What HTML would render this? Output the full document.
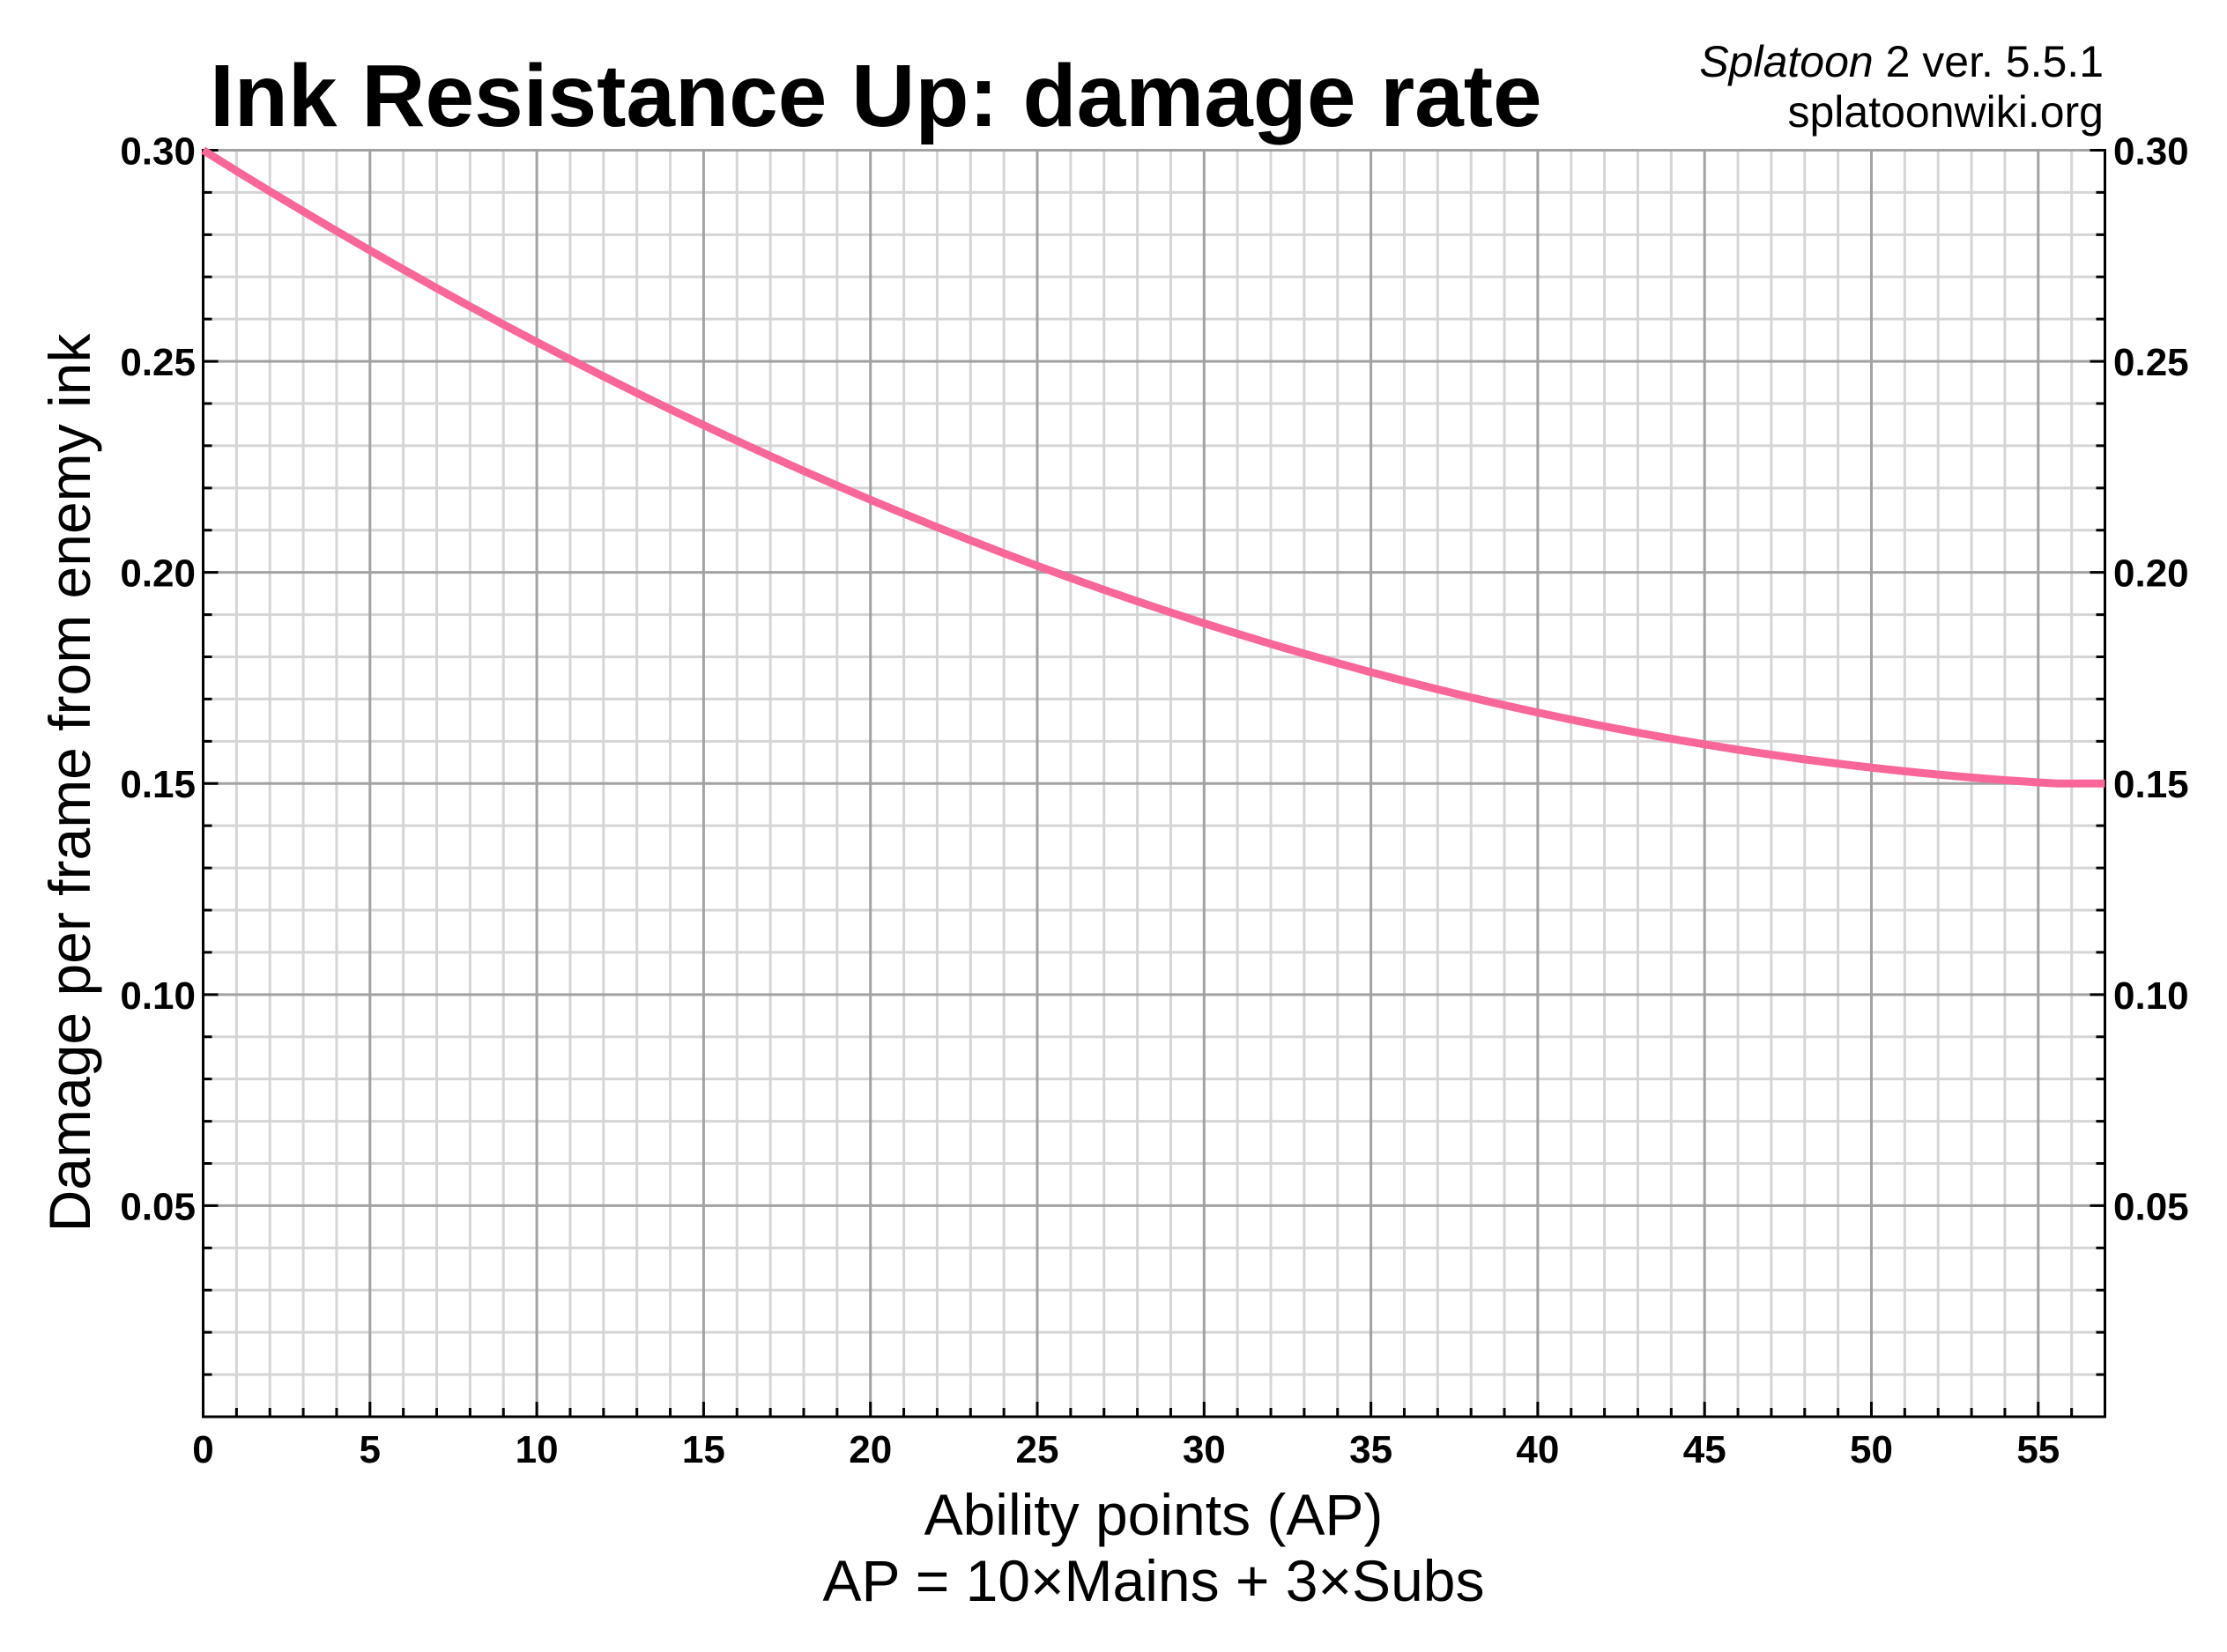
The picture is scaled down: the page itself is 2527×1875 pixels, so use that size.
<!DOCTYPE html>
<html>
<head>
<meta charset="utf-8">
<style>
html,body{margin:0;padding:0;background:#fff;}
svg{display:block;}
text{font-family:"Liberation Sans",Arial,sans-serif;fill:#000;}
</style>
</head>
<body>
<svg width="2527" height="1875" viewBox="0 0 2527 1875" xmlns="http://www.w3.org/2000/svg">
<rect width="2527" height="1875" fill="#fff"/>

<!-- minor vertical grid -->
<path fill="none" stroke="#d5d5d5" stroke-width="3" d="
M268.36 170.5V1608 M306.22 170.5V1608 M344.08 170.5V1608 M381.94 170.5V1608
M457.66 170.5V1608 M495.52 170.5V1608 M533.38 170.5V1608 M571.24 170.5V1608
M646.96 170.5V1608 M684.82 170.5V1608 M722.68 170.5V1608 M760.54 170.5V1608
M836.26 170.5V1608 M874.12 170.5V1608 M911.98 170.5V1608 M949.84 170.5V1608
M1025.56 170.5V1608 M1063.42 170.5V1608 M1101.28 170.5V1608 M1139.14 170.5V1608
M1214.86 170.5V1608 M1252.72 170.5V1608 M1290.58 170.5V1608 M1328.44 170.5V1608
M1404.16 170.5V1608 M1442.02 170.5V1608 M1479.88 170.5V1608 M1517.74 170.5V1608
M1593.46 170.5V1608 M1631.32 170.5V1608 M1669.18 170.5V1608 M1707.04 170.5V1608
M1782.76 170.5V1608 M1820.62 170.5V1608 M1858.48 170.5V1608 M1896.34 170.5V1608
M1972.06 170.5V1608 M2009.92 170.5V1608 M2047.78 170.5V1608 M2085.64 170.5V1608
M2161.36 170.5V1608 M2199.22 170.5V1608 M2237.08 170.5V1608 M2274.94 170.5V1608
M2350.66 170.5V1608"/>
<!-- minor horizontal grid -->
<path fill="none" stroke="#d5d5d5" stroke-width="3" d="
M230.5 218.42H2388.5 M230.5 266.33H2388.5 M230.5 314.25H2388.5 M230.5 362.17H2388.5
M230.5 458H2388.5 M230.5 505.92H2388.5 M230.5 553.83H2388.5 M230.5 601.75H2388.5
M230.5 697.58H2388.5 M230.5 745.5H2388.5 M230.5 793.42H2388.5 M230.5 841.33H2388.5
M230.5 937.17H2388.5 M230.5 985.08H2388.5 M230.5 1033H2388.5 M230.5 1080.92H2388.5
M230.5 1176.75H2388.5 M230.5 1224.67H2388.5 M230.5 1272.58H2388.5 M230.5 1320.5H2388.5
M230.5 1416.33H2388.5 M230.5 1464.25H2388.5 M230.5 1512.17H2388.5 M230.5 1560.08H2388.5"/>
<!-- major grid -->
<path fill="none" stroke="#a2a2a2" stroke-width="3" d="
M419.8 170.5V1608 M609.1 170.5V1608 M798.4 170.5V1608 M987.7 170.5V1608
M1177 170.5V1608 M1366.3 170.5V1608 M1555.6 170.5V1608 M1744.9 170.5V1608
M1934.2 170.5V1608 M2123.5 170.5V1608 M2312.8 170.5V1608
M230.5 170.5H2388.5 M230.5 410.08H2388.5 M230.5 649.67H2388.5 M230.5 889.25H2388.5
M230.5 1128.83H2388.5 M230.5 1368.42H2388.5"/>

<!-- spines -->
<path fill="none" stroke="#000" stroke-width="3" stroke-linecap="square" d="M230.5 170.5V1608H2388.5V170.5"/>

<!-- left ticks -->
<path fill="none" stroke="#000" stroke-width="3" d="
M230.5 170.5h17 M230.5 410.08h17 M230.5 649.67h17 M230.5 889.25h17 M230.5 1128.83h17 M230.5 1368.42h17
M230.5 218.42h10 M230.5 266.33h10 M230.5 314.25h10 M230.5 362.17h10
M230.5 458h10 M230.5 505.92h10 M230.5 553.83h10 M230.5 601.75h10
M230.5 697.58h10 M230.5 745.5h10 M230.5 793.42h10 M230.5 841.33h10
M230.5 937.17h10 M230.5 985.08h10 M230.5 1033h10 M230.5 1080.92h10
M230.5 1176.75h10 M230.5 1224.67h10 M230.5 1272.58h10 M230.5 1320.5h10
M230.5 1416.33h10 M230.5 1464.25h10 M230.5 1512.17h10 M230.5 1560.08h10"/>
<!-- right ticks -->
<path fill="none" stroke="#000" stroke-width="3" d="
M2388.5 170.5h-17 M2388.5 410.08h-17 M2388.5 649.67h-17 M2388.5 889.25h-17 M2388.5 1128.83h-17 M2388.5 1368.42h-17
M2388.5 218.42h-10 M2388.5 266.33h-10 M2388.5 314.25h-10 M2388.5 362.17h-10
M2388.5 458h-10 M2388.5 505.92h-10 M2388.5 553.83h-10 M2388.5 601.75h-10
M2388.5 697.58h-10 M2388.5 745.5h-10 M2388.5 793.42h-10 M2388.5 841.33h-10
M2388.5 937.17h-10 M2388.5 985.08h-10 M2388.5 1033h-10 M2388.5 1080.92h-10
M2388.5 1176.75h-10 M2388.5 1224.67h-10 M2388.5 1272.58h-10 M2388.5 1320.5h-10
M2388.5 1416.33h-10 M2388.5 1464.25h-10 M2388.5 1512.17h-10 M2388.5 1560.08h-10"/>
<!-- bottom ticks -->
<path fill="none" stroke="#000" stroke-width="3" d="
M419.8 1608v-17 M609.1 1608v-17 M798.4 1608v-17 M987.7 1608v-17 M1177 1608v-17 M1366.3 1608v-17
M1555.6 1608v-17 M1744.9 1608v-17 M1934.2 1608v-17 M2123.5 1608v-17 M2312.8 1608v-17
M268.36 1608v-10 M306.22 1608v-10 M344.08 1608v-10 M381.94 1608v-10
M457.66 1608v-10 M495.52 1608v-10 M533.38 1608v-10 M571.24 1608v-10
M646.96 1608v-10 M684.82 1608v-10 M722.68 1608v-10 M760.54 1608v-10
M836.26 1608v-10 M874.12 1608v-10 M911.98 1608v-10 M949.84 1608v-10
M1025.56 1608v-10 M1063.42 1608v-10 M1101.28 1608v-10 M1139.14 1608v-10
M1214.86 1608v-10 M1252.72 1608v-10 M1290.58 1608v-10 M1328.44 1608v-10
M1404.16 1608v-10 M1442.02 1608v-10 M1479.88 1608v-10 M1517.74 1608v-10
M1593.46 1608v-10 M1631.32 1608v-10 M1669.18 1608v-10 M1707.04 1608v-10
M1782.76 1608v-10 M1820.62 1608v-10 M1858.48 1608v-10 M1896.34 1608v-10
M1972.06 1608v-10 M2009.92 1608v-10 M2047.78 1608v-10 M2085.64 1608v-10
M2161.36 1608v-10 M2199.22 1608v-10 M2237.08 1608v-10 M2274.94 1608v-10
M2350.66 1608v-10"/>

<!-- curve -->
<polyline fill="none" stroke="#f96699" stroke-width="9" stroke-linejoin="round" stroke-linecap="butt" points="
230.5,170.5 268.36,194.02 306.22,217.16 344.08,239.91 381.94,262.27 419.8,284.24 457.66,305.83 495.52,327.02
533.38,347.83 571.24,368.25 609.1,388.28 646.96,407.92 684.82,427.18 722.68,446.05 760.54,464.53 798.4,482.62
836.26,500.32 874.12,517.63 911.98,534.56 949.84,551.1 987.7,567.25 1025.56,583.01 1063.42,598.39 1101.28,613.37
1139.14,627.97 1177,642.18 1214.86,656 1252.72,669.43 1290.58,682.48 1328.44,695.14 1366.3,707.41 1404.16,719.29
1442.02,730.78 1479.88,741.88 1517.74,752.6 1555.6,762.93 1593.46,772.87 1631.32,782.42 1669.18,791.59 1707.04,800.36
1744.9,808.75 1782.76,816.75 1820.62,824.36 1858.48,831.59 1896.34,838.42 1934.2,844.87 1972.06,850.93 2009.92,856.6
2047.78,861.88 2085.64,866.77 2123.5,871.28 2161.36,875.4 2199.22,879.13 2237.08,882.47 2274.94,885.43 2312.8,887.99
2333.9,889.25 2350.66,889.25 2388.5,889.25"/>

<!-- left tick labels -->
<g font-size="44" font-weight="bold" text-anchor="end">
<text x="222" y="186.5">0.30</text>
<text x="222" y="426">0.25</text>
<text x="222" y="665.5">0.20</text>
<text x="222" y="905">0.15</text>
<text x="222" y="1145">0.10</text>
<text x="222" y="1384.5">0.05</text>
</g>
<!-- right tick labels -->
<g font-size="44" font-weight="bold" text-anchor="start">
<text x="2398" y="186.5">0.30</text>
<text x="2398" y="426">0.25</text>
<text x="2398" y="665.5">0.20</text>
<text x="2398" y="905">0.15</text>
<text x="2398" y="1145">0.10</text>
<text x="2398" y="1384.5">0.05</text>
</g>
<!-- bottom tick labels -->
<g font-size="44" font-weight="bold" text-anchor="middle">
<text x="230.5" y="1660">0</text>
<text x="419.8" y="1660">5</text>
<text x="609.1" y="1660">10</text>
<text x="798.4" y="1660">15</text>
<text x="987.7" y="1660">20</text>
<text x="1177" y="1660">25</text>
<text x="1366.3" y="1660">30</text>
<text x="1555.6" y="1660">35</text>
<text x="1744.9" y="1660">40</text>
<text x="1934.2" y="1660">45</text>
<text x="2123.5" y="1660">50</text>
<text x="2312.8" y="1660">55</text>
</g>

<!-- title -->
<text x="238" y="143" font-size="100" font-weight="bold">Ink Resistance Up: damage rate</text>

<!-- top right -->
<g font-size="50" text-anchor="end">
<text x="2387" y="87"><tspan font-style="italic">Splatoon</tspan> 2 ver. 5.5.1</text>
<text x="2387" y="144">splatoonwiki.org</text>
</g>

<!-- axis labels -->
<g font-size="66" text-anchor="middle">
<text x="1309" y="1742">Ability points (AP)</text>
<text x="1309" y="1817">AP = 10×Mains + 3×Subs</text>
<text transform="translate(102,888.5) rotate(-90)" x="0" y="0">Damage per frame from enemy ink</text>
</g>
</svg>
</body>
</html>
